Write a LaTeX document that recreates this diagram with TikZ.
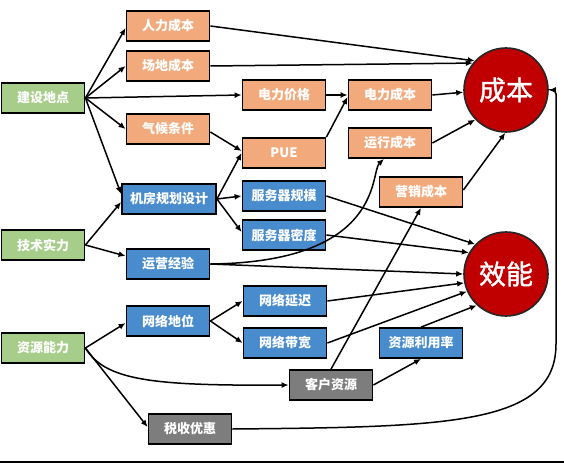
\documentclass[tikz,border=0pt]{standalone}
\usepackage{fontspec}
\newfontfamily\cjk{Noto Sans CJK SC}
\newfontfamily\cjkm[FakeBold=1.3]{Noto Sans CJK SC}
\usetikzlibrary{arrows.meta,calc}
\definecolor{cOr}{RGB}{242,170,125}
\definecolor{cGr}{RGB}{166,206,138}
\definecolor{cBl}{RGB}{72,140,206}
\definecolor{cGy}{RGB}{125,125,125}
\definecolor{cRd}{RGB}{192,0,0}
\begin{document}
\begin{tikzpicture}[x=1pt,y=-1pt,
  box/.style={draw=black,line width=1.8pt,minimum width=83pt,minimum height=30pt,inner sep=0pt,text=white,font=\cjk\bfseries\fontsize{13}{15}\selectfont},
  ob/.style={box,fill=cOr},
  gb/.style={box,fill=cGr},
  bb/.style={box,fill=cBl},
  yb/.style={box,fill=cGy},
  circ/.style={circle,draw=black!85,line width=1.6pt,fill=cRd,minimum size=84pt,inner sep=0pt,text=white,font=\cjkm\fontsize{27}{30}\selectfont},
  arr/.style={line width=1.5pt,-{Latex[length=7pt,width=6pt]}}
]
\useasboundingbox (0,0) rectangle (564,465);
% left column
\node[gb] (jsdd) at (43,98) {建设地点};
\node[gb] (jssl) at (43,245) {技术实力};
\node[gb] (zynl) at (43,348) {资源能力};
% second column
\node[ob] (rlcb) at (168,26) {人力成本};
\node[ob] (cdcb) at (168,66) {场地成本};
\node[ob] (qhtj) at (168,129) {气候条件};
\node[bb,minimum width=94pt] (jfgh) at (169,199) {机房规划设计};
\node[bb] (yyjy) at (168,264) {运营经验};
\node[bb] (wldw) at (168,321) {网络地位};
\node[yb] (sswh) at (190,429) {税收优惠};
% third column
\node[ob] (dljg) at (284,95) {电力价格};
\node[ob] (pue) at (284,153) {PUE};
\node[bb] (fwgm) at (284,196) {服务器规模};
\node[bb] (fwmd) at (284,235) {服务器密度};
\node[bb] (wlyc) at (285,301) {网络延迟};
\node[bb] (wldk) at (285,343) {网络带宽};
\node[yb] (khzy) at (331,385) {客户资源};
% fourth column
\node[ob] (dlcb) at (390,95) {电力成本};
\node[ob] (yxcb) at (390,143) {运行成本};
\node[ob] (yxcb2) at (421,192) {营销成本};
\node[bb] (zylyl) at (421,343) {资源利用率};
% circles
\node[circ] (cb) at (506,90) {成本};
\node[circ] (xn) at (506,274) {效能};
% connectors
\draw[arr] (jsdd.east) -- ($(rlcb.west)+(0,2)$);
\draw[arr] (jsdd.east) -- (cdcb.west);
\draw[arr] (jsdd.east) -- (dljg.west);
\draw[arr] (jsdd.east) -- (qhtj.west);
\draw[arr] (jsdd.east) -- ($(jfgh.west)+(0,-5)$);
\draw[arr] (jssl.east) -- ($(jfgh.west)+(0,3)$);
\draw[arr] (jssl.east) -- ($(yyjy.west)+(0,-8)$);
\draw[arr] (zynl.east) -- ($(wldw.west)+(0,2)$);
\draw[arr] (zynl.east) .. controls (105,380) and (150,386) .. (khzy.west);
\draw[arr] (zynl.east) -- ($(sswh.west)+(0,-2)$);
\draw[arr] (rlcb.east) -- (cb.137);
\draw[arr] (cdcb.east) -- (cb.141);
\draw[arr] ($(qhtj.east)+(0,3)$) -- ($(pue.west)+(0,-2)$);
\draw[arr] (jfgh.east) -- (pue.west);
\draw[arr] (jfgh.east) -- (fwgm.west);
\draw[arr] (jfgh.east) -- ($(fwmd.west)+(0,-3)$);
\draw[arr,line width=2.3pt] (dljg.east) -- (dlcb.west);
\draw[arr] (pue.north east) -- ($(dlcb.west)+(0,2)$);
\draw[arr] (dlcb.east) -- (cb.183);
\draw[arr] (yxcb.east) -- (cb.224);
\draw[arr] ($(yxcb2.east)+(0,-2)$) -- (cb.269);
\draw[arr] (yyjy.east) .. controls (385,262) and (370,172) .. ($(yxcb.south)+(-6,0)$);
\draw[arr] (yyjy.east) -- (xn.180);
\draw[arr] (fwgm.east) -- (xn.136);
\draw[arr] (fwmd.east) -- (xn.150);
\draw[arr] (wldw.east) -- (wlyc.west);
\draw[arr] (wldw.east) -- (wldk.west);
\draw[arr] (wlyc.east) -- (xn.192);
\draw[arr] (wldk.east) -- (xn.204);
\draw[arr] (zylyl.north) -- (xn.227);
\draw[arr] (khzy.north) -- (yxcb2.south);
\draw[arr] (khzy.east) -- (zylyl.south);
\draw[arr,rounded corners=4pt] (sswh.east) .. controls (450,427) and (556,425) .. (556,340) |- (cb.east);
% bottom rule
\draw[line width=1.5pt] (0,462) -- (564,462);
\end{tikzpicture}
\end{document}
